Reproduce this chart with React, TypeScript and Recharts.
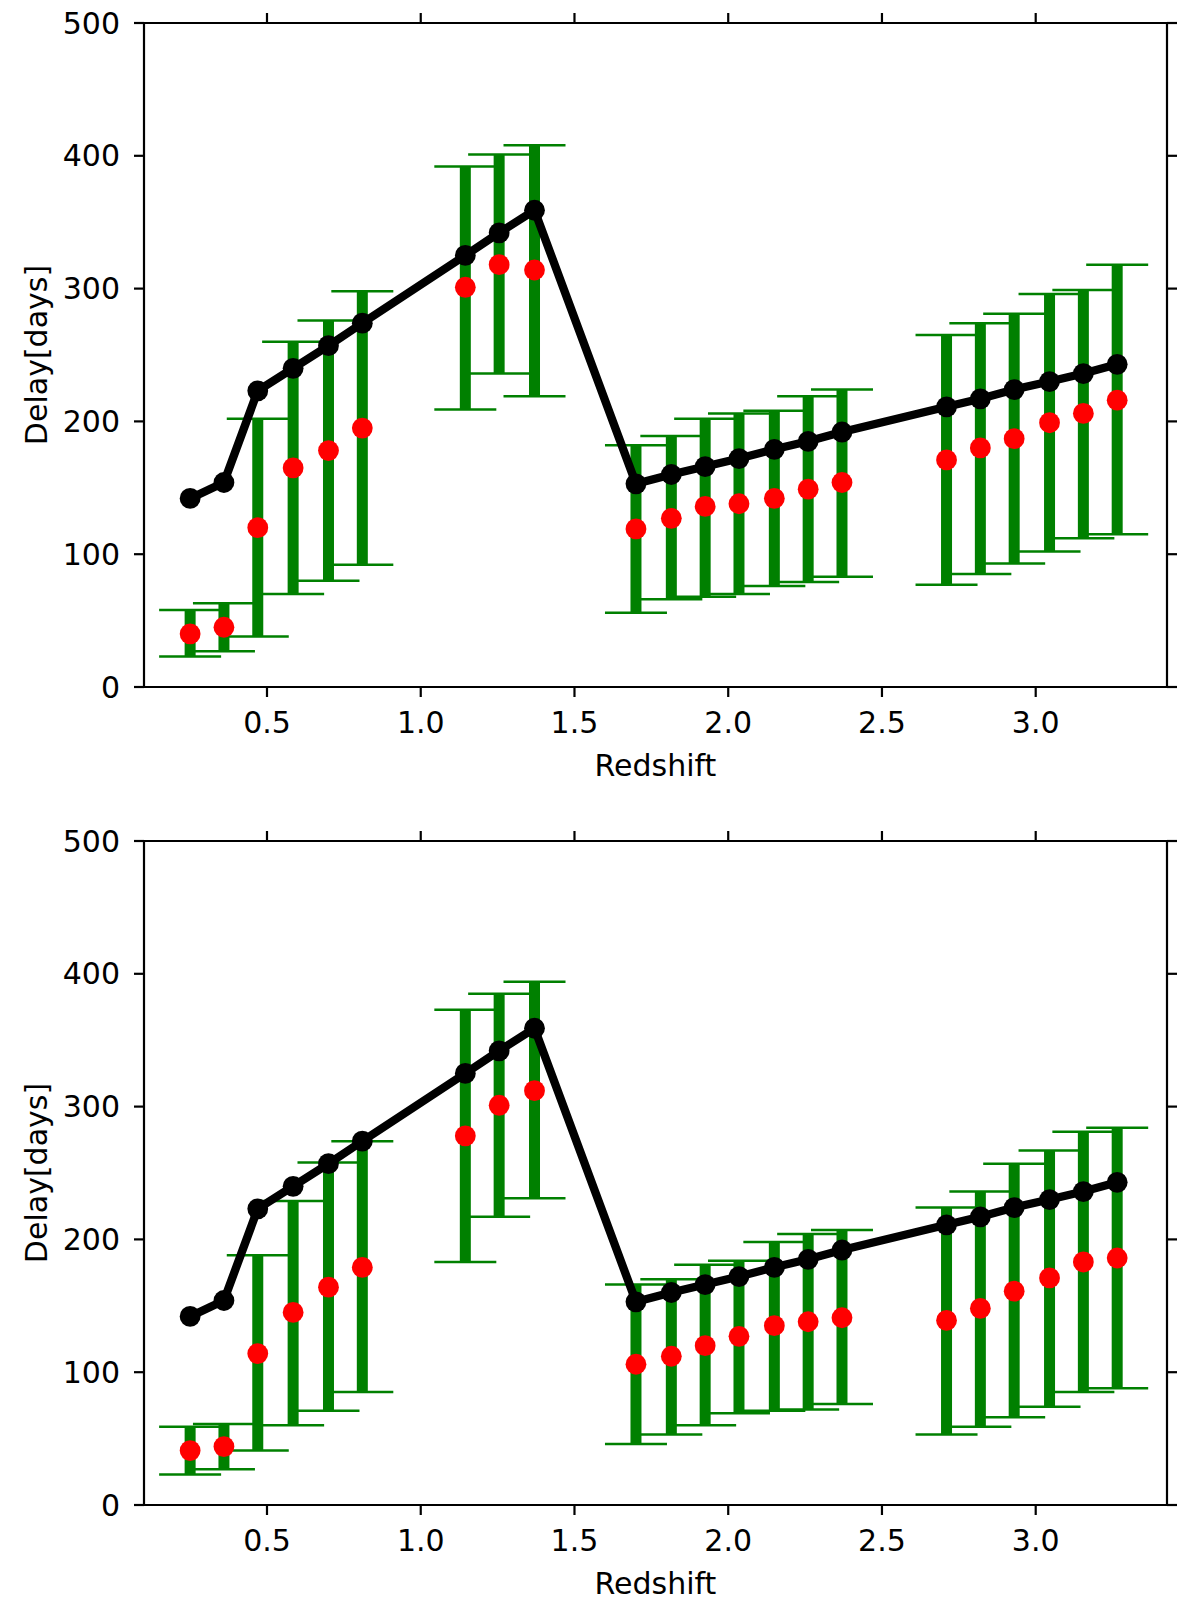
import React from "react";
import {
  ComposedChart,
  Line,
  Scatter,
  ErrorBar,
  XAxis,
  YAxis,
} from "recharts";

// redshift bins
const redshift = [
  0.25, 0.36, 0.47, 0.585, 0.7, 0.81, 1.145, 1.255, 1.37, 1.7, 1.815, 1.925,
  2.035, 2.15, 2.26, 2.37, 2.71, 2.82, 2.93, 3.045, 3.155, 3.265,
];

// black curve, same in both panels
const modelDelay = [
  142, 154, 223, 240, 257, 274, 325, 342, 359, 153, 160, 166, 172, 179, 185,
  192, 211, 217, 224, 230, 236, 243,
];

// top panel
const topDelay = [
  40, 45, 120, 165, 178, 195, 301, 318, 314, 119, 127, 136, 138, 142, 149, 154,
  171, 180, 187, 199, 206, 216,
];
const topLow = [
  23, 27, 38, 70, 80, 92, 209, 236, 219, 56, 66, 68, 70, 76, 79, 83, 77, 85, 93,
  102, 112, 115,
];
const topHigh = [
  58, 63, 202, 260, 276, 298, 392, 401, 408, 182, 189, 202, 206, 208, 219, 224,
  265, 274, 281, 296, 299, 318,
];

// bottom panel
const botDelay = [
  41, 44, 114, 145, 164, 179, 278, 301, 312, 106, 112, 120, 127, 135, 138, 141,
  139, 148, 161, 171, 183, 186,
];
const botLow = [
  23, 27, 41, 60, 71, 85, 183, 217, 231, 46, 53, 60, 69, 71, 72, 76, 53, 59, 66,
  74, 85, 88,
];
const botHigh = [
  59, 61, 188, 229, 258, 274, 373, 385, 394, 166, 170, 181, 184, 198, 204, 207,
  224, 236, 257, 267, 281, 284,
];

const xTicks = [0.5, 1.0, 1.5, 2.0, 2.5, 3.0];
const yTicks = [0, 100, 200, 300, 400, 500];

const FONT = "'DejaVu Sans', sans-serif";
const FS = 30;
const tickStyle = { fontSize: FS, fill: "#000", fontFamily: FONT };
const lineStyle = { stroke: "#000", strokeWidth: 2.2 };
const noLabel = () => <g />;

const modelRows = redshift.map((z, i) => ({ z, model: modelDelay[i] }));

function Panel({
  delay,
  low,
  high,
  height,
}: {
  delay: number[];
  low: number[];
  high: number[];
  height: number;
}) {
  const rows = redshift.map((z, i) => ({
    z,
    delay: delay[i],
    err: [delay[i] - low[i], high[i] - delay[i]],
  }));
  return (
    <ComposedChart
      width={1200}
      height={height}
      data={modelRows}
      margin={{ top: 22, right: 32, bottom: 0, left: 0 }}
    >
      <XAxis
        xAxisId="b"
        dataKey="z"
        type="number"
        domain={[0.1, 3.427]}
        allowDataOverflow
        ticks={xTicks}
        tickFormatter={(v: number) => v.toFixed(1)}
        height={height - 687}
        tick={tickStyle}
        tickSize={10}
        tickMargin={15}
        axisLine={lineStyle}
        tickLine={lineStyle}
        label={{
          value: "Redshift",
          position: "insideTop",
          offset: 68,
          style: { fontSize: FS, fill: "#000", fontFamily: FONT },
        }}
      />
      <XAxis
        xAxisId="t"
        orientation="top"
        dataKey="z"
        type="number"
        domain={[0.1, 3.427]}
        allowDataOverflow
        ticks={xTicks}
        height={1}
        tick={noLabel}
        tickSize={10}
        axisLine={lineStyle}
        tickLine={lineStyle}
      />
      <YAxis
        yAxisId="l"
        type="number"
        domain={[0, 500]}
        allowDataOverflow
        ticks={yTicks}
        width={144}
        tick={tickStyle}
        tickSize={10}
        tickMargin={14}
        axisLine={lineStyle}
        tickLine={lineStyle}
        label={{
          value: "Delay[days]",
          angle: -90,
          position: "insideLeft",
          offset: 36,
          style: {
            fontSize: FS,
            fill: "#000",
            fontFamily: FONT,
            textAnchor: "middle",
          },
        }}
      />
      <YAxis
        yAxisId="r"
        orientation="right"
        type="number"
        domain={[0, 500]}
        allowDataOverflow
        ticks={yTicks}
        width={1}
        tick={noLabel}
        tickSize={10}
        axisLine={lineStyle}
        tickLine={lineStyle}
      />
      <Scatter
        data={rows}
        dataKey="delay"
        xAxisId="b"
        yAxisId="l"
        fill="#ff0000"
        shape={(p: any) => <circle cx={p.cx} cy={p.cy} r={10.4} fill="#ff0000" />}
        isAnimationActive={false}
      >
        <ErrorBar
          dataKey="err"
          direction="y"
          width={0}
          stroke="#008000"
          strokeWidth={11}
          isAnimationActive={false}
        />
        <ErrorBar
          dataKey="err"
          direction="y"
          width={31}
          stroke="#008000"
          strokeWidth={2.5}
          isAnimationActive={false}
        />
      </Scatter>
      <Line
        dataKey="model"
        xAxisId="b"
        yAxisId="l"
        stroke="#000"
        strokeWidth={8.3}
        dot={{ r: 10.4, fill: "#000", stroke: "none" }}
        activeDot={false}
        isAnimationActive={false}
        zIndex={700}
      />
    </ComposedChart>
  );
}

export default function App() {
  return (
    <div
      style={{
        position: "absolute",
        left: 0,
        top: 0,
        width: 1200,
        height: 1603,
        background: "#fff",
      }}
    >
      <Panel delay={topDelay} low={topLow} high={topHigh} height={818} />
      <Panel delay={botDelay} low={botLow} high={botHigh} height={785} />
    </div>
  );
}
